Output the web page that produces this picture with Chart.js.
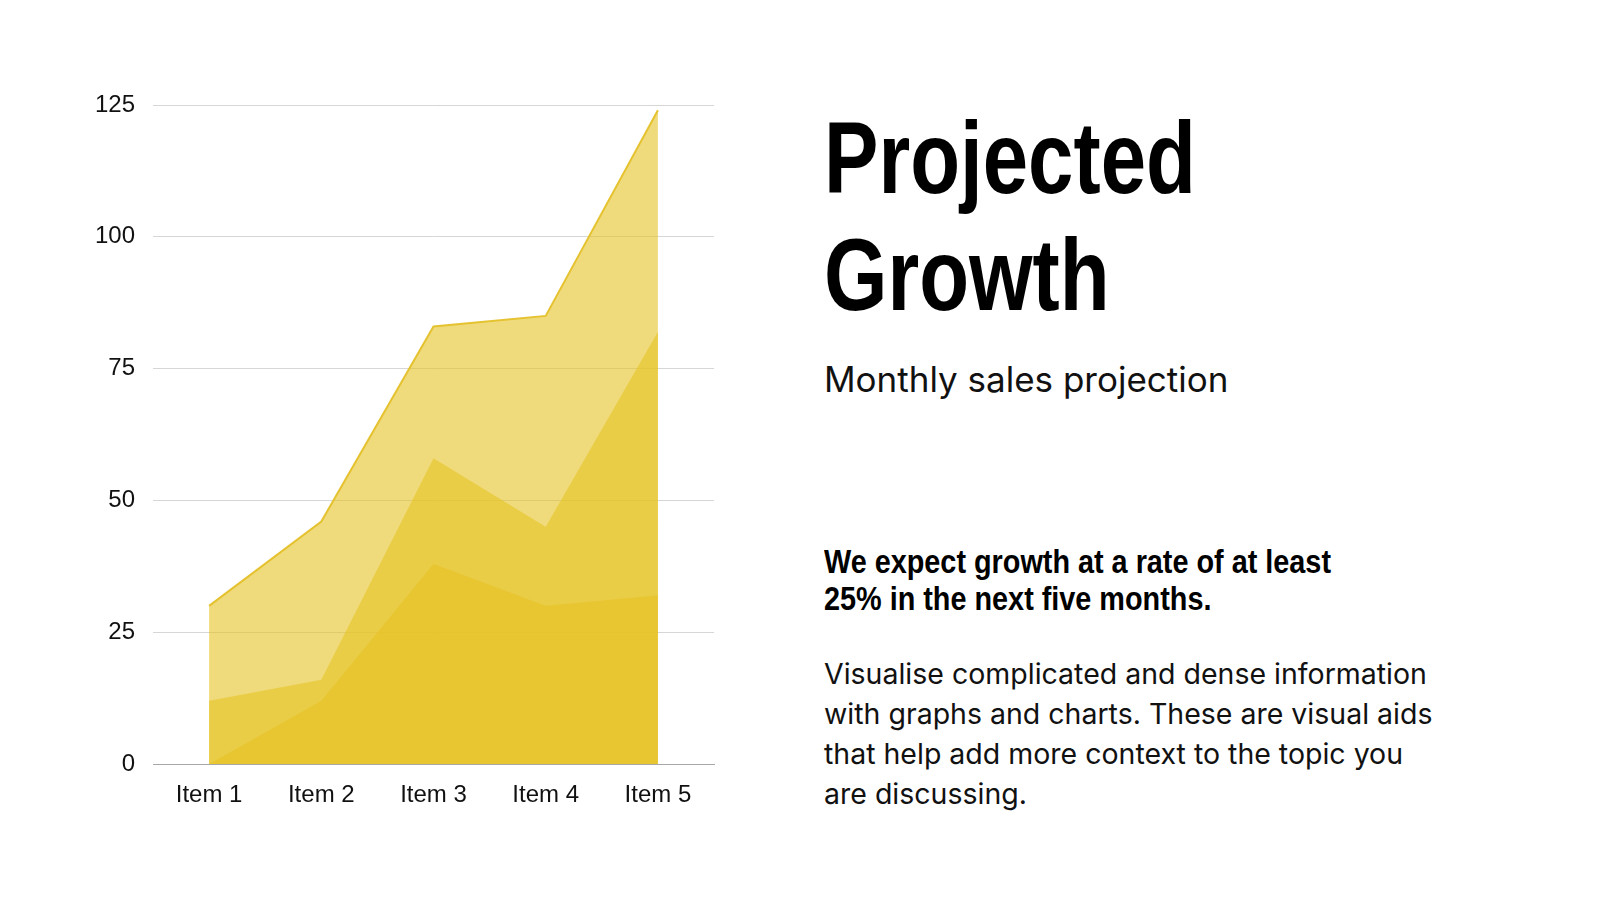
<!DOCTYPE html>
<html>
<head>
<meta charset="utf-8">
<script src="https://cdn.jsdelivr.net/npm/chart.js@4/dist/chart.umd.min.js"></script>
<style>
  html, body { margin: 0; padding: 0; background: #ffffff; }
  body { width: 1600px; height: 900px; position: relative; overflow: hidden; font-family: "Inter", "Liberation Sans", sans-serif; color: #000; }
  #chartBox { position: absolute; left: 0; top: 0; width: 734px; height: 900px; }
  .title { position: absolute; left: 824px; top: 100px; white-space: nowrap; font-family: "Liberation Sans", sans-serif; font-weight: 700; font-size: 102px; line-height: 117px; transform: scaleX(0.80); transform-origin: 0 0; }
  .subtitle { position: absolute; left: 824px; top: 362px; white-space: nowrap; font-size: 35px; line-height: 35px; color: #111; }
  .lead { position: absolute; left: 824px; top: 543px; white-space: nowrap; font-family: "Liberation Sans", sans-serif; font-weight: 700; font-size: 33px; line-height: 37px; transform: scaleX(0.873); transform-origin: 0 0; }
  .body { position: absolute; left: 824px; top: 654px; white-space: nowrap; font-size: 28.5px; line-height: 40px; color: #111; }
</style>
</head>
<body>
<div id="chartBox"><canvas id="c"></canvas></div>
<div class="title">Projected<br>Growth</div>
<div class="subtitle">Monthly sales projection</div>
<div class="lead">We expect growth at a rate of at least<br>25% in the next five months.</div>
<div class="body">Visualise complicated and dense information<br>with graphs and charts. These are visual aids<br>that help add more context to the topic you<br>are discussing.</div>
<script>
const categories = ["Item 1", "Item 2", "Item 3", "Item 4", "Item 5"];
const seriesA = [30, 46, 83, 85, 124];
const seriesB = [12, 16, 58, 45, 82];
const seriesC = [0, 12, 38, 30, 32];
const yTicks = [0, 25, 50, 75, 100, 125];

const fillCol = "rgba(230,195,37,0.6)";
const lineCol = "rgba(228,192,40,0.95)";

new Chart(document.getElementById("c"), {
  type: "line",
  data: {
    labels: categories,
    datasets: [
      { label: "A", data: seriesA, fill: "origin", backgroundColor: fillCol, borderColor: lineCol, borderWidth: 2, pointRadius: 0, tension: 0 },
      { label: "B", data: seriesB, fill: "origin", backgroundColor: fillCol, borderColor: "rgba(0,0,0,0)", borderWidth: 0, pointRadius: 0, tension: 0 },
      { label: "C", data: seriesC, fill: "origin", backgroundColor: fillCol, borderColor: "rgba(0,0,0,0)", borderWidth: 0, pointRadius: 0, tension: 0 }
    ]
  },
  options: {
    responsive: true,
    maintainAspectRatio: false,
    animation: false,
    layout: { padding: { top: 105, right: 20, left: 0, bottom: 0 } },
    plugins: { legend: { display: false }, tooltip: { enabled: false } },
    scales: {
      x: {
        offset: true,
        grid: { display: false, drawTicks: false },
        border: { display: true, color: "#a8a8a8", width: 1 },
        ticks: { color: "#111", font: { family: "Liberation Sans", size: 24 }, padding: 17 },
        afterFit: (a) => { a.height = 136; }
      },
      y: {
        min: 0, max: 125,
        afterBuildTicks: (a) => { a.ticks = yTicks.map(v => ({ value: v })); },
        grid: { color: "#d6d6d6", lineWidth: 1, drawTicks: false },
        border: { display: false },
        ticks: { color: "#111", font: { family: "Liberation Sans", size: 24 }, padding: 18 },
        afterFit: (a) => { a.width = 153; }
      }
    }
  }
});
</script>
</body>
</html>
